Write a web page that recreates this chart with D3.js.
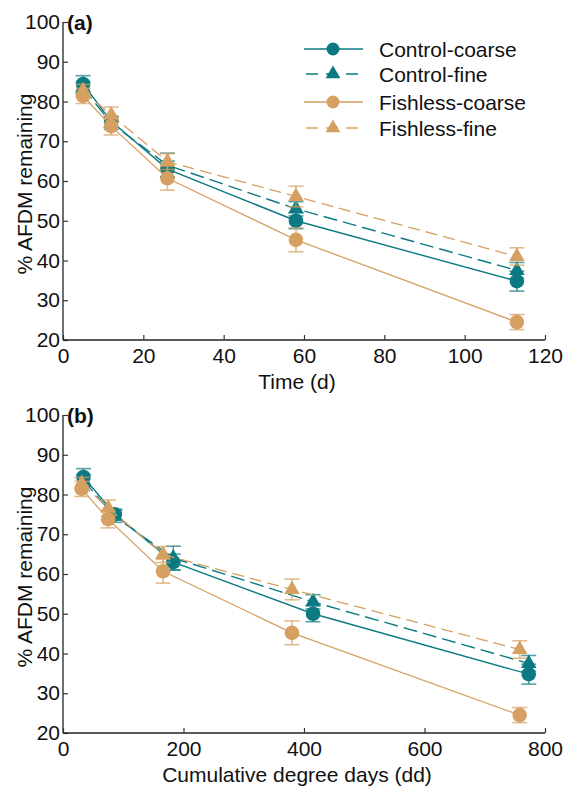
<!DOCTYPE html>
<html>
<head>
<meta charset="utf-8">
<script src="https://cdn.jsdelivr.net/npm/d3@7"></script>
<style>
  html, body { margin: 0; padding: 0; background: #fff; }
  svg { display: block; font-family: "Liberation Sans", Arial, sans-serif; }
</style>
</head>
<body>
<svg id="chart" width="567" height="787"></svg>
<script>
// ---------- data ----------
const timeDays = [5, 12, 26, 58, 113];
const ddControl = [34, 86, 183, 415, 773];
const ddFishless = [31, 75, 166, 380, 758];

const seriesNames = ["Control-coarse", "Control-fine", "Fishless-coarse", "Fishless-fine"];
const controlCoarse = [84.4, 75.0, 63.0, 50.0, 34.8];
const controlCoarseErr = [2.1, 1.3, 2.0, 2.0, 2.5];
const controlFine = [83.5, 74.5, 64.0, 53.0, 37.5];
const controlFineErr = [1.5, 1.5, 3.0, 1.8, 2.0];
const fishlessCoarse = [81.4, 73.8, 60.7, 45.2, 24.5];
const fishlessCoarseErr = [1.9, 2.2, 3.0, 3.0, 1.9];
const fishlessFine = [82.8, 76.6, 64.9, 56.1, 41.0];
const fishlessFineErr = [1.5, 2.0, 2.0, 2.6, 2.2];

const yTicks = [20, 30, 40, 50, 60, 70, 80, 90, 100];
const xTicksA = [0, 20, 40, 60, 80, 100, 120];
const xTicksB = [0, 200, 400, 600, 800];

// ---------- styles ----------
const TEAL = "#0b7a82";
const TAN = "#d5a062";
const styles = {
  "Control-coarse": { color: TEAL, dash: null, shape: "circle", width: 1.4 },
  "Control-fine": { color: TEAL, dash: "14,6", shape: "triangle", width: 1.4 },
  "Fishless-coarse": { color: TAN, dash: null, shape: "circle", width: 1.3 },
  "Fishless-fine": { color: TAN, dash: "12,6", shape: "triangle", width: 1.3 }
};
const valuesBy = {
  "Control-coarse": [controlCoarse, controlCoarseErr, "control"],
  "Control-fine": [controlFine, controlFineErr, "control"],
  "Fishless-coarse": [fishlessCoarse, fishlessCoarseErr, "fishless"],
  "Fishless-fine": [fishlessFine, fishlessFineErr, "fishless"]
};

const svg = d3.select("#chart");
const FONT = 21;

function drawMarker(g, shape, color, x, y, legend) {
  if (shape === "circle") {
    g.append("circle").attr("cx", x).attr("cy", y).attr("r", legend ? 6.5 : 7.3).attr("fill", color);
  } else {
    g.append("path")
      .attr("d", d3.symbol().type(d3.symbolTriangle).size(legend ? 95 : 105)())
      .attr("transform", `translate(${x},${y})`)
      .attr("fill", color);
  }
}

function panel(opts) {
  const { top, bottom, left, right, domainX, xTicks, xFor, label, xTitle, titleY } = opts;
  const x = d3.scaleLinear().domain(domainX).range([left, right]);
  const y = d3.scaleLinear().domain([20, 100]).range([bottom, top]);
  const g = svg.append("g");

  // axes
  const yAxis = g.append("g").attr("transform", `translate(${left},0)`)
    .call(d3.axisLeft(y).tickValues(yTicks).tickSize(-5).tickPadding(3));
  const xAxis = g.append("g").attr("transform", `translate(0,${bottom})`)
    .call(d3.axisBottom(x).tickValues(xTicks).tickSize(-5).tickPadding(8));
  [yAxis, xAxis].forEach(a => {
    a.select(".domain").attr("stroke", "#222").attr("stroke-width", 1.3);
    a.selectAll(".tick line").attr("stroke", "#333").attr("stroke-width", 1.2);
    a.selectAll(".tick text").attr("font-size", FONT).attr("fill", "#111")
      .attr("font-family", "Liberation Sans, Arial, sans-serif");
  });
  yAxis.select(".domain").attr("d", `M0,${bottom}V${top}`);
  xAxis.select(".domain").attr("d", `M${left},0H${right}`);
  xAxis.selectAll(".tick text").attr("dy", "0.71em").attr("y", 8);

  // axis titles
  g.append("text").attr("x", 297).attr("y", titleY).attr("text-anchor", "middle")
    .attr("font-size", FONT).attr("fill", "#111").text(xTitle);
  g.append("text")
    .attr("transform", `translate(32,${(top + bottom) / 2 + 3}) rotate(-90)`)
    .attr("text-anchor", "middle").attr("font-size", FONT).attr("fill", "#111")
    .text("% AFDM remaining");
  g.append("text").attr("x", 67).attr("y", top + 8).attr("font-size", FONT)
    .attr("font-weight", "bold").attr("fill", "#111").text(label);

  // series
  seriesNames.forEach(name => {
    const st = styles[name];
    const [vals, errs, grp] = valuesBy[name];
    const xs = xFor(grp);
    const pts = vals.map((v, i) => ({ x: xs[i], y: v, e: errs[i] }));
    const sg = g.append("g");
    const line = d3.line().x(d => x(d.x)).y(d => y(d.y));
    sg.append("path").datum(pts).attr("d", line).attr("fill", "none")
      .attr("stroke", st.color).attr("stroke-width", st.width)
      .attr("stroke-dasharray", st.dash);
    pts.forEach(p => {
      const cx = x(p.x), y1 = y(p.y + p.e), y0 = y(p.y - p.e);
      const eb = sg.append("g").attr("stroke", st.color).attr("stroke-opacity", 0.7).attr("stroke-width", 1.6);
      eb.append("line").attr("x1", cx).attr("x2", cx).attr("y1", y1).attr("y2", y0);
      eb.append("line").attr("x1", cx - 7.5).attr("x2", cx + 7.5).attr("y1", y1).attr("y2", y1);
      eb.append("line").attr("x1", cx - 7.5).attr("x2", cx + 7.5).attr("y1", y0).attr("y2", y0);
    });
    pts.forEach(p => drawMarker(sg, st.shape, st.color, x(p.x), y(p.y), false));
  });
  return g;
}

panel({
  top: 22, bottom: 340, left: 63, right: 545,
  domainX: [0, 120], xTicks: xTicksA,
  xFor: () => timeDays, label: "(a)", xTitle: "Time (d)", titleY: 389
});
panel({
  top: 415, bottom: 733, left: 63, right: 545,
  domainX: [0, 800], xTicks: xTicksB,
  xFor: grp => grp === "control" ? ddControl : ddFishless,
  label: "(b)", xTitle: "Cumulative degree days (dd)", titleY: 782
});

// legend
const legendRows = [49, 74, 102, 128];
const lg = svg.append("g");
seriesNames.forEach((name, i) => {
  const st = styles[name];
  const cy = legendRows[i];
  lg.append("line").attr("x1", 304).attr("x2", 363).attr("y1", cy).attr("y2", cy)
    .attr("stroke", st.color).attr("stroke-width", st.width)
    .attr("stroke-dasharray", st.dash ? "12,8" : null)
    .attr("stroke-dashoffset", st.dash ? -2 : null);
  drawMarker(lg, st.shape, st.color, 333, cy, true);
  lg.append("text").attr("x", 379).attr("y", cy + 7.5).attr("font-size", FONT)
    .attr("fill", "#111").text(name);
});
</script>
</body>
</html>
